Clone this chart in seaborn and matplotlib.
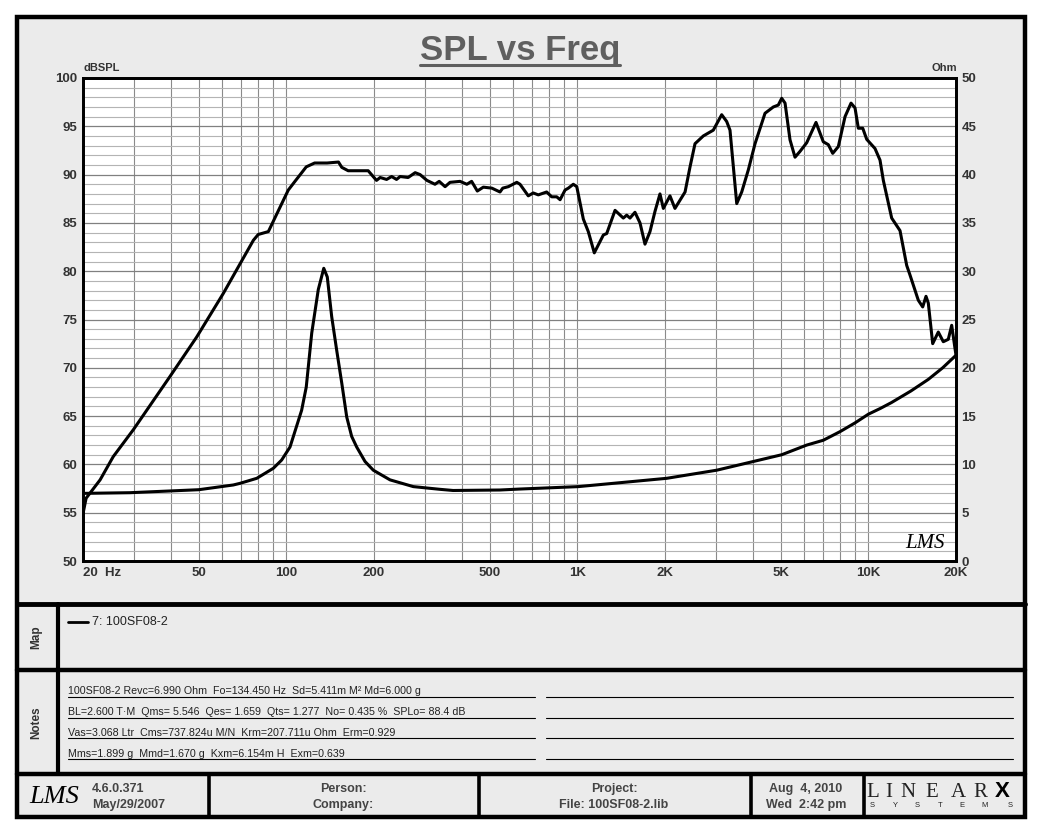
import matplotlib
matplotlib.use("Agg")
import matplotlib.pyplot as plt
import seaborn as sns
from matplotlib.ticker import FixedLocator, NullFormatter
from matplotlib.patches import Rectangle

# SPL 曲线 (Hz / dBSPL)
spl_freq = [20, 20.5, 22.9, 25.4, 29.8, 39.8, 49.2, 60.7, 77, 80, 86.7, 95, 101.5, 107, 117, 125, 138, 151, 155, 163,
            191, 204, 210, 221, 230, 239, 246, 262, 277, 288, 304, 324, 335, 351, 365, 395, 417, 433, 453, 475,
            508, 542, 554, 579, 619, 635, 678, 705, 734, 784, 816, 849, 872, 907, 931, 968, 995, 1048, 1090, 1143,
            1228, 1261, 1347, 1438, 1477, 1516, 1577, 1641, 1707, 1776, 1848, 1922, 1974, 2080, 2164, 2344, 2438, 2536, 2708, 2817,
            2931, 3132, 3258, 3345, 3528, 3670, 3868, 4078, 4413, 4712, 4902, 5036, 5171, 5378, 5595, 5820, 6137, 6606, 6998, 7282,
            7540, 7882, 8312, 8716, 8996, 9234, 9562, 9868, 10536, 10962, 11254, 12023, 12842, 13540, 13900, 14840, 15368, 15774, 16064, 16632,
            17386, 18088, 18816, 19330, 19844, 20000]
spl_db = [54.9, 56.5, 58.4, 60.8, 63.6, 69.1, 73.2, 77.7, 83.2, 83.8, 84.1, 86.6, 88.4, 89.3, 90.8, 91.2, 91.2, 91.3, 90.75, 90.4,
          90.4, 89.4, 89.7, 89.5, 89.8, 89.5, 89.8, 89.7, 90.2, 90.0, 89.4, 89.0, 89.3, 88.75, 89.2, 89.3, 89.0, 89.3, 88.3, 88.7,
          88.6, 88.2, 88.6, 88.75, 89.2, 89.0, 87.8, 88.1, 87.9, 88.2, 87.7, 87.7, 87.4, 88.4, 88.6, 89.0, 88.75, 85.4, 84.1, 81.9,
          83.75, 83.9, 86.3, 85.5, 85.8, 85.5, 86.1, 85.0, 82.8, 84.1, 86.2, 88.0, 86.5, 87.8, 86.5, 88.2, 90.8, 93.2, 94.0, 94.3,
          94.6, 96.2, 95.5, 94.6, 87.0, 88.2, 90.5, 93.2, 96.35, 97.0, 97.2, 97.9, 97.4, 93.6, 91.8, 92.4, 93.3, 95.4, 93.4, 93.1,
          92.2, 92.9, 96.0, 97.4, 96.9, 94.8, 94.8, 93.65, 92.7, 91.5, 89.4, 85.5, 84.2, 80.6, 79.6, 77.0, 76.3, 77.4, 76.7, 72.5,
          73.7, 72.7, 72.95, 74.4, 72.0, 71.3]

# 阻抗曲线 (Hz / Ohm)
imp_freq = [20, 29, 50, 65.7, 69.3, 79.1, 90.2, 96.3, 102.9, 112.8, 117, 122.2, 128.7, 134.4, 138.2, 143.1, 148.9, 155,
            161.2, 167.6, 174.4, 186.3, 198.9, 227, 273, 337, 374, 542, 635, 1007, 2027, 3012, 4022, 5036, 6137, 6998,
            8000, 9000, 10000, 11000, 12000, 14000, 16064, 18000, 20000]
imp_ohm = [7.0, 7.07, 7.38, 7.87, 8.04, 8.56, 9.6, 10.45, 11.8, 15.6, 18.0, 23.6, 28.1, 30.3, 29.4, 25.3, 21.8, 18.4,
           14.9, 12.9, 11.8, 10.3, 9.4, 8.4, 7.7, 7.42, 7.3, 7.35, 7.45, 7.7, 8.56, 9.4, 10.3, 11.0, 12.0, 12.5,
           13.4, 14.3, 15.2, 15.8, 16.4, 17.6, 18.8, 20.0, 21.3]

x_ticks = [20, 50, 100, 200, 500, 1000, 2000, 5000, 10000, 20000]
x_labels = ["20  Hz", "50", "100", "200", "500", "1K", "2K", "5K", "10K", "20K"]
x_grid = [20, 30, 40, 50, 60, 70, 80, 90, 100, 200, 300, 400, 500, 600, 700, 800, 900,
          1000, 2000, 3000, 4000, 5000, 6000, 7000, 8000, 9000, 10000, 20000]
spl_ticks = [50, 55, 60, 65, 70, 75, 80, 85, 90, 95, 100]
ohm_ticks = [0, 5, 10, 15, 20, 25, 30, 35, 40, 45, 50]

legend_label = "7: 100SF08-2"
notes = ["100SF08-2 Revc=6.990 Ohm  Fo=134.450 Hz  Sd=5.411m M² Md=6.000 g",
         "BL=2.600 T·M  Qms= 5.546  Qes= 1.659  Qts= 1.277  No= 0.435 %  SPLo= 88.4 dB",
         "Vas=3.068 Ltr  Cms=737.824u M/N  Krm=207.711u Ohm  Erm=0.929",
         "Mms=1.899 g  Mmd=1.670 g  Kxm=6.154m H  Exm=0.639"]

sns.set_theme(style="white")
plt.rcParams['font.family'] = ['Liberation Sans', 'DejaVu Sans']

fig = plt.figure(figsize=(10.4, 8.32), dpi=100)
fig.patch.set_facecolor('white')

# 背景和边框（像素坐标）
bg = fig.add_axes([0, 0, 1, 1], zorder=0)
bg.set_xlim(0, 1040)
bg.set_ylim(832, 0)
bg.axis('off')
bg.add_patch(Rectangle((17, 17), 1008, 800, facecolor='#ebebeb', edgecolor='black', lw=3.2))
bg.plot([17, 1025], [604, 604], color='black', lw=3.5)
bg.plot([17, 1025], [670, 670], color='black', lw=3.2)
bg.plot([17, 1025], [774, 774], color='black', lw=3.2)
bg.plot([57.5, 57.5], [604, 774], color='black', lw=3)
for xv in [209, 479, 750.5, 863.5]:
    bg.plot([xv, xv], [774, 817], color='black', lw=2.6)

title_c = '#5f5f5f'
lab_c = '#333333'
bg.text(520, 60, "SPL vs Freq", ha='center', va='baseline', fontsize=25, fontweight='bold', color=title_c)
bg.plot([420, 620], [65, 65], color=title_c, lw=2.2)
bg.text(83, 71, "dBSPL", ha='left', va='baseline', fontsize=8, fontweight='bold', color=lab_c)
bg.text(957, 71, "Ohm", ha='right', va='baseline', fontsize=8, fontweight='bold', color=lab_c)

# 主图
ax = fig.add_axes([83 / 1040, 1 - 561 / 832, 873 / 1040, 483 / 832], zorder=2)
ax.set_facecolor('white')
ax.set_xscale('log')
sns.lineplot(x=spl_freq, y=spl_db, ax=ax, color='black', lw=2.2, estimator=None, sort=False)
ax.set_xlim(20, 20000)
ax.set_ylim(50, 100)
ax.set_xticks(x_ticks, x_labels)
ax.xaxis.set_minor_locator(FixedLocator(x_grid))
ax.xaxis.set_minor_formatter(NullFormatter())
ax.set_yticks(spl_ticks)
ax.yaxis.set_minor_locator(FixedLocator(list(range(50, 101))))
ax.grid(which='minor', axis='y', color='#b4b4b4', lw=0.8)
ax.grid(which='major', axis='y', color='#808080', lw=0.9)
ax.grid(which='both', axis='x', color='#8a8a8a', lw=0.8)
ax.set_axisbelow(True)
ax.tick_params(which='both', length=0, labelsize=9.5, labelcolor=lab_c, pad=4)
ax.set_xlabel('')
ax.set_ylabel('')
for lbl in ax.get_xticklabels() + ax.get_yticklabels():
    lbl.set_fontweight('bold')
ax.get_xticklabels()[0].set_horizontalalignment('left')
for s in ax.spines.values():
    s.set_color('black')
    s.set_linewidth(2)

ax2 = ax.twinx()
sns.lineplot(x=imp_freq, y=imp_ohm, ax=ax2, color='black', lw=2.2, estimator=None, sort=False)
ax2.set_ylim(0, 50)
ax2.set_yticks(ohm_ticks)
ax2.grid(False)
ax2.set_ylabel('')
ax2.tick_params(which='both', length=0, labelsize=9.5, labelcolor=lab_c, pad=4)
for lbl in ax2.get_yticklabels():
    lbl.set_fontweight('bold')
for s in ax2.spines.values():
    s.set_color('black')
    s.set_linewidth(2)

ax2.text(925, 543, "LMS", transform=bg.transData, ha='center', va='center', fontsize=15,
         style='italic', family='Liberation Serif', color='black')

# Map 区
bg.text(36, 637, "Map", rotation=90, ha='center', va='center', fontsize=8.5, fontweight='bold', color=lab_c)
bg.plot([68, 88], [622, 622], color='black', lw=2)
bg.text(92, 622, legend_label, ha='left', va='center', fontsize=9, color='#222222')

# Notes 区
bg.text(36, 723, "Notes", rotation=90, ha='center', va='center', fontsize=8.5, fontweight='bold', color=lab_c)
for i, line in enumerate(notes):
    yy = 697 + 20.7 * i
    bg.text(68, yy - 2.5, line, ha='left', va='baseline', fontsize=7.7, color='#222222')
    bg.plot([68, 535], [yy, yy], color='black', lw=0.8)
    bg.plot([546, 1013], [yy, yy], color='black', lw=0.8)

# 页脚
foot_c = '#444444'
bg.text(54, 797, "LMS", ha='center', va='center', fontsize=19, style='italic', family='Liberation Serif', color='black')
bg.text(92, 792, "4.6.0.371", ha='left', va='baseline', fontsize=9, fontweight='bold', color=foot_c)
bg.text(92, 808, "May/29/2007", ha='left', va='baseline', fontsize=9, fontweight='bold', color=foot_c)
bg.text(343, 792, "Person:", ha='center', va='baseline', fontsize=9, fontweight='bold', color=foot_c)
bg.text(343, 808, "Company:", ha='center', va='baseline', fontsize=9, fontweight='bold', color=foot_c)
bg.text(614, 792, "Project:", ha='center', va='baseline', fontsize=9, fontweight='bold', color=foot_c)
bg.text(614, 808, "File: 100SF08-2.lib", ha='center', va='baseline', fontsize=9, fontweight='bold', color=foot_c)
bg.text(806, 792, "Aug  4, 2010", ha='center', va='baseline', fontsize=9, fontweight='bold', color=foot_c)
bg.text(806, 808, "Wed  2:42 pm", ha='center', va='baseline', fontsize=9, fontweight='bold', color=foot_c)

for ch, xv in zip("LINEAR", [873, 889, 908, 932, 958, 980]):
    bg.text(xv, 797, ch, ha='center', va='baseline', fontsize=15, family='Liberation Serif', color='#222222')
bg.text(1002, 797, "X", ha='center', va='baseline', fontsize=16, fontweight='black', family='Liberation Sans', color='black')
for ch, xv in zip("SYSTEMS", [872, 895, 917, 940, 962, 985, 1010]):
    bg.text(xv, 807, ch, ha='center', va='baseline', fontsize=5.5, color='#222222')

fig.savefig("out.png", dpi=100)
